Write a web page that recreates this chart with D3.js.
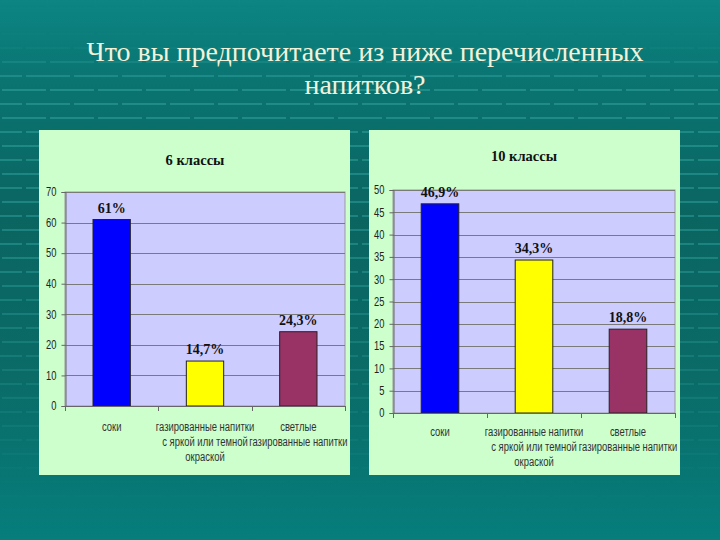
<!DOCTYPE html>
<html><head><meta charset="utf-8">
<script src="https://cdn.jsdelivr.net/npm/d3@7"></script>
<style>
html,body{margin:0;padding:0;background:#0a6a66;}
svg{display:block;}
</style></head>
<body>
<svg id="chart" width="720" height="540"></svg>
<script>
// ---- data ----
const titleLines = ["Что вы предпочитаете из ниже перечисленных", "напитков?"];
const categories = ["соки", "газированные напитки|с яркой или темной|окраской", "светлые|газированные напитки"];
const barColors = ["#0000ff", "#ffff00", "#993366"];
const title6 = "6 классы";
const values6 = [61, 14.7, 24.3];
const labels6 = ["61%", "14,7%", "24,3%"];
const ticks6 = [0, 10, 20, 30, 40, 50, 60, 70];
const title10 = "10 классы";
const values10 = [46.9, 34.3, 18.8];
const labels10 = ["46,9%", "34,3%", "18,8%"];
const ticks10 = [0, 5, 10, 15, 20, 25, 30, 35, 40, 45, 50];

const svg = d3.select("#chart");
const defs = svg.append("defs");

// background gradient
const bg = defs.append("linearGradient").attr("id", "bg").attr("x1", 0).attr("y1", 0).attr("x2", 0).attr("y2", 1);
[["0%", "#0c8583"], ["15%", "#0a7471"], ["40%", "#0a6561"], ["70%", "#0a6b67"], ["100%", "#067e7c"]]
  .forEach(([o, c]) => bg.append("stop").attr("offset", o).attr("stop-color", c));
svg.append("rect").attr("width", 720).attr("height", 540).attr("fill", "url(#bg)");

// dash pattern
const dashC = "#35a8a2";
const pat = defs.append("pattern").attr("id", "dash").attr("patternUnits", "userSpaceOnUse")
  .attr("width", 96).attr("height", 28).attr("y", 5);
[[2, 0], [50, 0], [-22, 14], [26, 14], [74, 14]].forEach(([dx, dy]) =>
  pat.append("rect").attr("x", dx).attr("y", dy).attr("width", 44).attr("height", 2).attr("fill", dashC));
const mg = defs.append("linearGradient").attr("id", "mg").attr("x1", 0).attr("y1", 0).attr("x2", 0).attr("y2", 1);
[["0%", 0], ["8%", 0.05], ["15%", 0.5], ["45%", 0.45], ["70%", 0.25], ["88%", 0.05], ["100%", 0]]
  .forEach(([o, a]) => mg.append("stop").attr("offset", o).attr("stop-color", "#fff").attr("stop-opacity", a));
defs.append("mask").attr("id", "m").append("rect").attr("width", 720).attr("height", 540).attr("fill", "url(#mg)");
svg.append("rect").attr("width", 720).attr("height", 540).attr("fill", "url(#dash)").attr("mask", "url(#m)");

const sans = "'Liberation Sans',Arial,sans-serif";
const serif = "'Liberation Serif','Times New Roman',serif";
const SX = 0.7;   // narrow look for category labels
const SY = 0.78;  // narrow look for tick labels

// slide title
svg.append("g").selectAll("text").data(titleLines).join("text")
  .attr("x", 365).attr("y", (d, i) => 61 + i * 33)
  .attr("text-anchor", "middle")
  .attr("font-family", serif)
  .attr("font-size", 28).attr("fill", "#f2f2da")
  .text(d => d);

function panel(cfg) {
  const g = svg.append("g");
  g.append("rect").attr("x", cfg.px).attr("y", 130).attr("width", 311).attr("height", 345).attr("fill", "#ccffcc");
  const x = d3.scaleBand().domain(d3.range(categories.length)).range([cfg.x0, cfg.x1]).paddingInner(0.6).paddingOuter(0.3);
  const y = d3.scaleLinear().domain([0, cfg.max]).range([cfg.y0, cfg.y1]);
  g.append("rect").attr("x", cfg.x0).attr("y", cfg.y1).attr("width", cfg.x1 - cfg.x0).attr("height", cfg.y0 - cfg.y1)
    .attr("fill", "#ccccff").attr("stroke", "#9a9a9a").attr("stroke-width", 1);
  // gridlines
  g.append("g").selectAll("line").data(cfg.ticks.filter(t => t > 0)).join("line")
    .attr("x1", cfg.x0).attr("x2", cfg.x1).attr("y1", d => Math.round(y(d)) + 0.5).attr("y2", d => Math.round(y(d)) + 0.5)
    .attr("stroke", "#7a7a7a").attr("stroke-width", 1);
  // y axis
  const ya = g.append("g").attr("transform", `translate(${cfg.x0 + 0.5},0)`)
    .call(d3.axisLeft(y).tickValues(cfg.ticks).tickSize(4).tickPadding(5));
  ya.select(".domain").attr("stroke", "#666");
  ya.selectAll(".tick line").attr("stroke", "#666");
  ya.selectAll(".tick text").attr("font-family", sans).attr("font-size", 12).attr("fill", "#222")
    .attr("x", -9 / SY).attr("transform", `scale(${SY},1)`);
  // bars
  g.append("g").selectAll("rect").data(cfg.values).join("rect")
    .attr("x", (d, i) => x(i)).attr("width", x.bandwidth())
    .attr("y", d => y(d)).attr("height", d => y(0) - y(d))
    .attr("fill", (d, i) => barColors[i]).attr("stroke", "#222").attr("stroke-width", 1);
  // x axis
  const step = x.step();
  g.append("line").attr("x1", cfg.x0).attr("x2", cfg.x1).attr("y1", cfg.y0 + 0.5).attr("y2", cfg.y0 + 0.5).attr("stroke", "#666");
  g.append("g").selectAll("line").data(d3.range(categories.length + 1)).join("line")
    .attr("x1", i => Math.round(cfg.x0 + i * step) + 0.5).attr("x2", i => Math.round(cfg.x0 + i * step) + 0.5)
    .attr("y1", cfg.y0).attr("y2", cfg.y0 + 5).attr("stroke", "#666");
  // category labels (narrow)
  const cl = g.append("g").selectAll("g").data(categories).join("g")
    .attr("transform", (d, i) => `translate(${x(i) + x.bandwidth() / 2},${cfg.catY}) scale(${SX},1)`);
  cl.append("text").attr("text-anchor", "middle").attr("font-family", sans).attr("font-size", 13.5).attr("fill", "#333")
    .each(function (d) {
      d3.select(this).selectAll("tspan").data(d.split("|")).join("tspan")
        .attr("x", 0).attr("y", (s, j) => j * 15).text(s => s);
    });
  // value labels
  g.append("g").selectAll("text").data(cfg.values).join("text")
    .attr("x", (d, i) => x(i) + x.bandwidth() / 2).attr("y", d => y(d) - 7)
    .attr("text-anchor", "middle").attr("font-family", serif).attr("font-weight", "bold")
    .attr("font-size", 14).attr("fill", "#111")
    .text((d, i) => cfg.labels[i]);
  // panel title
  g.append("text").attr("x", cfg.tx).attr("y", cfg.ty).attr("text-anchor", "middle")
    .attr("font-family", serif).attr("font-weight", "bold").attr("font-size", 14.5).attr("fill", "#111")
    .text(cfg.title);
}

panel({ px: 39, x0: 65, x1: 345, y0: 406, y1: 192, max: 70, ticks: ticks6, values: values6, labels: labels6,
  title: title6, tx: 195, ty: 165, catY: 431 });
panel({ px: 369, x0: 393, x1: 675, y0: 413, y1: 190, max: 50, ticks: ticks10, values: values10, labels: labels10,
  title: title10, tx: 524, ty: 161, catY: 436 });
</script>
</body></html>
